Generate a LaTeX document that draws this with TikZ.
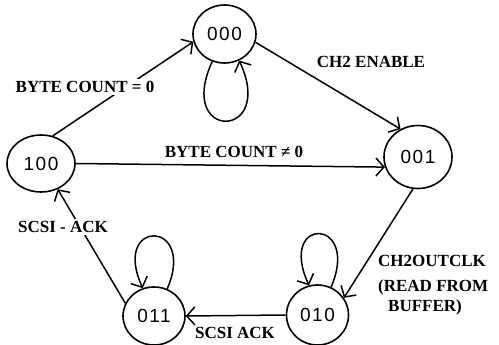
\documentclass[tikz,border=0pt]{standalone}
\usepackage{fontspec}
\setmainfont{Liberation Serif}
\newfontfamily\statefont[LetterSpace=8]{Liberation Sans}
\usetikzlibrary{shapes.geometric,arrows.meta}
\begin{document}
\begin{tikzpicture}[x=1pt,y=-1pt,
  state/.style={draw, ellipse, inner sep=0pt, line width=1.6pt,
    font=\statefont\fontsize{19}{22}\selectfont},
  trans/.style={line width=1.5pt, -{Straight Barb[length=8pt,width=18pt]}},
  lbl/.style={font=\bfseries\fontsize{17}{20}\selectfont, inner sep=2pt},
  cut/.style={lbl, fill=white}]
\useasboundingbox (0,0) rectangle (499,345);

% states
\node[state, minimum width=63pt, minimum height=58pt] (s000) at (224.5,34)  {000};
\node[state, minimum width=68pt, minimum height=57pt] (s100) at (41,163.5)  {100};
\node[state, minimum width=68pt, minimum height=63pt] (s001) at (418,157)   {001};
\node[state, minimum width=62pt, minimum height=60pt] (s010) at (317.5,315) {010};
\node[state, minimum width=62pt, minimum height=58pt] (s011) at (154,316)   {011};

% transitions
\draw[trans] (s100.67) -- (s000.194);
\node[cut] (l1) at (85,87) {BYTE COUNT = 0};

\draw[trans] (s000.345) -- (s001.122);
\node[lbl] (l2) at (371,62) {CH2 ENABLE};

\draw[trans] (s100.east) -- (s001.197);
\node[lbl] (l3) at (234,152) {BYTE COUNT ≠ 0};

\draw[trans] (s001.261) -- (s010.33);
\node[lbl, align=left, anchor=north west, inner sep=0pt] (l4) at (378,255)
  {CH2OUTCLK\\[5pt](READ FROM\\\hspace{10pt}BUFFER)};

\draw[trans] (s010.west) -- (s011.east);
\node[lbl] (l5) at (235,333) {SCSI ACK};

\draw[trans] (s011.156) -- (s100.303);
\node[cut] (l6) at (63,227) {SCSI - ACK};

% self loops
\draw[trans] (s000.246) .. controls +(-37,80) and +(37,80) .. (s000.299);
\draw[trans] (s011.64) .. controls +(30,-70) and +(-32,-70) .. (s011.112);
\draw[trans] (s010.64) .. controls +(30,-70) and +(-32,-70) .. (s010.106);
\end{tikzpicture}
\end{document}
